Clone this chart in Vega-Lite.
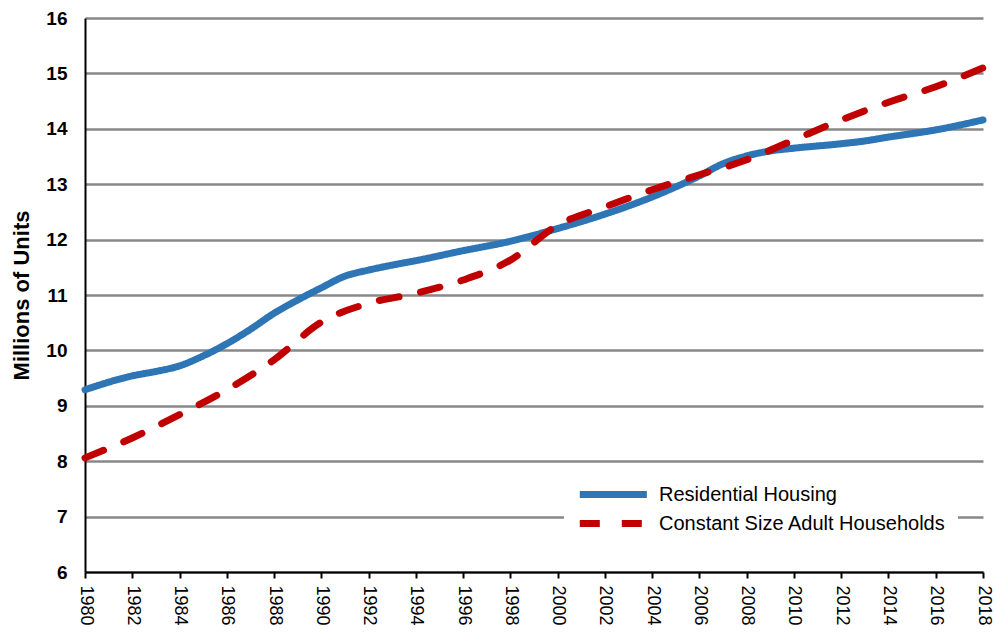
{
  "$schema": "https://vega.github.io/schema/vega-lite/v6.json",
  "width": 898,
  "height": 554,
  "autosize": {"type": "none"},
  "padding": {"left": 85, "top": 18, "right": 10, "bottom": 61},
  "background": "white",
  "config": {
    "font": "Liberation Sans",
    "view": {"stroke": null}
  },
  "data": {
    "values": [
      {"year": 1980, "series": "Residential Housing", "value": 9.29},
      {"year": 1982, "series": "Residential Housing", "value": 9.54},
      {"year": 1983, "series": "Residential Housing", "value": 9.62},
      {"year": 1984, "series": "Residential Housing", "value": 9.72},
      {"year": 1985, "series": "Residential Housing", "value": 9.9},
      {"year": 1986, "series": "Residential Housing", "value": 10.12},
      {"year": 1987, "series": "Residential Housing", "value": 10.38},
      {"year": 1988, "series": "Residential Housing", "value": 10.67},
      {"year": 1989, "series": "Residential Housing", "value": 10.91},
      {"year": 1990, "series": "Residential Housing", "value": 11.13},
      {"year": 1991, "series": "Residential Housing", "value": 11.34},
      {"year": 1992, "series": "Residential Housing", "value": 11.45},
      {"year": 1993, "series": "Residential Housing", "value": 11.54},
      {"year": 1994, "series": "Residential Housing", "value": 11.62},
      {"year": 1996, "series": "Residential Housing", "value": 11.8},
      {"year": 1998, "series": "Residential Housing", "value": 11.97},
      {"year": 2000, "series": "Residential Housing", "value": 12.2},
      {"year": 2002, "series": "Residential Housing", "value": 12.46},
      {"year": 2004, "series": "Residential Housing", "value": 12.77},
      {"year": 2006, "series": "Residential Housing", "value": 13.15},
      {"year": 2007, "series": "Residential Housing", "value": 13.37},
      {"year": 2008, "series": "Residential Housing", "value": 13.51},
      {"year": 2009, "series": "Residential Housing", "value": 13.6},
      {"year": 2010, "series": "Residential Housing", "value": 13.65},
      {"year": 2012, "series": "Residential Housing", "value": 13.73},
      {"year": 2013, "series": "Residential Housing", "value": 13.78},
      {"year": 2014, "series": "Residential Housing", "value": 13.85},
      {"year": 2016, "series": "Residential Housing", "value": 13.98},
      {"year": 2018, "series": "Residential Housing", "value": 14.16},
      {"year": 1980, "series": "Constant Size Adult Households", "value": 8.06},
      {"year": 1982, "series": "Constant Size Adult Households", "value": 8.42},
      {"year": 1984, "series": "Constant Size Adult Households", "value": 8.84},
      {"year": 1986, "series": "Constant Size Adult Households", "value": 9.29},
      {"year": 1988, "series": "Constant Size Adult Households", "value": 9.83},
      {"year": 1990, "series": "Constant Size Adult Households", "value": 10.51},
      {"year": 1992, "series": "Constant Size Adult Households", "value": 10.85},
      {"year": 1994, "series": "Constant Size Adult Households", "value": 11.03},
      {"year": 1996, "series": "Constant Size Adult Households", "value": 11.27},
      {"year": 1998, "series": "Constant Size Adult Households", "value": 11.63},
      {"year": 2000, "series": "Constant Size Adult Households", "value": 12.26},
      {"year": 2002, "series": "Constant Size Adult Households", "value": 12.59},
      {"year": 2004, "series": "Constant Size Adult Households", "value": 12.9},
      {"year": 2006, "series": "Constant Size Adult Households", "value": 13.17},
      {"year": 2008, "series": "Constant Size Adult Households", "value": 13.44},
      {"year": 2010, "series": "Constant Size Adult Households", "value": 13.8},
      {"year": 2012, "series": "Constant Size Adult Households", "value": 14.16},
      {"year": 2014, "series": "Constant Size Adult Households", "value": 14.48},
      {"year": 2016, "series": "Constant Size Adult Households", "value": 14.76},
      {"year": 2018, "series": "Constant Size Adult Households", "value": 15.1}
    ]
  },
  "mark": {"type": "line", "strokeWidth": 7, "interpolate": "monotone", "strokeCap": "round", "clip": false},
  "encoding": {
    "x": {
      "field": "year",
      "type": "quantitative",
      "scale": {"domain": [1980, 2018], "nice": false, "zero": false},
      "axis": {
        "title": null,
        "values": [1980,1982,1984,1986,1988,1990,1992,1994,1996,1998,2000,2002,2004,2006,2008,2010,2012,2014,2016,2018],
        "format": "d",
        "labelAngle": 90,
        "labelAlign": "left",
        "labelBaseline": "middle",
        "labelFontSize": 18,
        "labelColor": "black",
        "labelPadding": 7,
        "labelFlush": false,
        "labelOverlap": false,
        "grid": false,
        "domainColor": "black",
        "domainWidth": 2,
        "tickColor": "black",
        "tickWidth": 2,
        "tickSize": 6
      }
    },
    "y": {
      "field": "value",
      "type": "quantitative",
      "scale": {"domain": [6, 16], "nice": false, "zero": false},
      "axis": {
        "title": "Millions of Units",
        "titleFontSize": 22,
        "titleFontWeight": "bold",
        "titleColor": "black",
        "titlePadding": 12,
        "values": [6,7,8,9,10,11,12,13,14,15,16],
        "labelFontSize": 19,
        "labelFontWeight": "bold",
        "labelColor": "black",
        "labelPadding": 18,
        "ticks": false,
        "domainColor": "black",
        "domainWidth": 2,
        "gridColor": "#888888",
        "gridWidth": 2.5
      }
    },
    "color": {
      "field": "series",
      "type": "nominal",
      "scale": {"domain": ["Residential Housing", "Constant Size Adult Households"], "range": ["#2E75B6", "#C00000"]},
      "legend": {
        "title": null,
        "orient": "none",
        "legendX": 479,
        "legendY": 454,
        "fillColor": "white",
        "padding": 12,
        "symbolType": "M-1,0H9",
        "symbolSize": 180,
        "symbolStrokeWidth": 7,
        "labelFontSize": 20,
        "labelColor": "black",
        "labelOffset": 62,
        "labelLimit": 500,
        "rowPadding": 0
      }
    },
    "strokeDash": {
      "field": "series",
      "type": "nominal",
      "scale": {"domain": ["Residential Housing", "Constant Size Adult Households"], "range": [[1, 0], [20, 22]]}
    }
  }
}
